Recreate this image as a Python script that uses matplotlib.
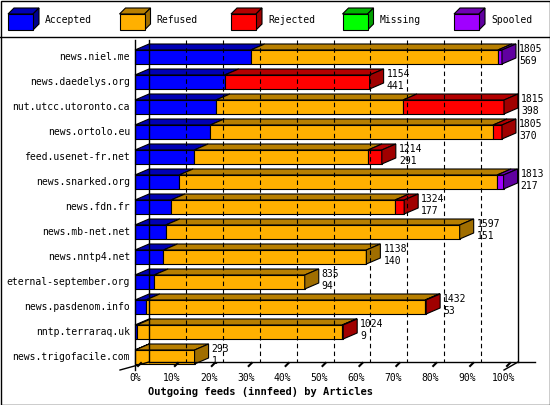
import numpy as np
import matplotlib.pyplot as plt
from matplotlib.patches import Polygon, Rectangle

hosts = ["news.niel.me", "news.daedelys.org", "nut.utcc.utoronto.ca", "news.ortolo.eu",
         "feed.usenet-fr.net", "news.snarked.org", "news.fdn.fr", "news.mb-net.net",
         "news.nntp4.net", "eternal-september.org", "news.pasdenom.info",
         "nntp.terraraq.uk", "news.trigofacile.com"]
totals = [1805, 1154, 1815, 1805, 1214, 1813, 1324, 1597, 1138, 835, 1432, 1024, 293]
accepted = [569, 441, 398, 370, 291, 217, 177, 151, 140, 94, 53, 9, 1]
refused = [1216, 0, 920, 1391, 855, 1564, 1102, 1446, 998, 741, 1374, 1010, 292]
rejected = [0, 713, 497, 44, 68, 0, 45, 0, 0, 0, 5, 5, 0]
missing = [0] * 13
spooled = [20, 0, 0, 0, 0, 32, 0, 0, 0, 0, 0, 0, 0]

series = ["Accepted", "Refused", "Rejected", "Missing", "Spooled"]
front = ["#0000ff", "#ffb000", "#ff0000", "#00ff00", "#a000ff"]
top = ["#0000b4", "#b87f00", "#b40000", "#00b400", "#7000b4"]
side = ["#000090", "#a06e00", "#a00000", "#00a000", "#6000a0"]

fig = plt.figure(figsize=(5.5, 4.05), dpi=100)
ax = fig.add_axes([0, 0, 1, 1])
ax.set_xlim(0, 550)
ax.set_ylim(405, 0)
ax.axis("off")
mono = "DejaVu Sans Mono"

X0, X1 = 135, 504     # 0% .. 100% on the front face
DX, DY = 14, -6       # depth offset
vmax = max(totals)


def px(v):
    return X0 + v / vmax * (X1 - X0)


# frame and legend
ax.add_patch(Rectangle((0.5, 0.5), 549, 404, fill=False, lw=1, ec="black"))
ax.plot([0, 550], [37, 37], color="black", lw=1)
for i, name in enumerate(series):
    lx = 8 + i * 111.5
    ax.add_patch(Polygon([(lx, 14), (lx + 6, 8), (lx + 31, 8), (lx + 25, 14)],
                         fc=top[i], ec="black", lw=0.8))
    ax.add_patch(Polygon([(lx + 25, 14), (lx + 31, 8), (lx + 31, 24), (lx + 25, 30)],
                         fc=side[i], ec="black", lw=0.8))
    ax.add_patch(Rectangle((lx, 14), 25, 16, fc=front[i], ec="black", lw=0.8))
    ax.text(lx + 37, 20, name, fontsize=7, family=mono, va="center")

# back wall grid, floor
yb = 362
ax.plot([X0 + DX, X0 + DX], [40, yb], color="black", lw=1)
ax.plot([X1 + DX, X1 + DX], [40, yb], color="black", lw=1)
ax.plot([X0 + DX, 535], [yb, yb], color="black", lw=1)
ax.plot([X0, X0], [40, 370], color="black", lw=1)
ax.plot([120, X0 + DX], [370, yb], color="black", lw=1)
ax.plot([X1, X1 + DX], [370, yb], color="black", lw=1)
for k in range(1, 10):
    gx = X0 + DX + k * (X1 - X0) / 10
    ax.plot([gx, gx], [40, yb], color="black", lw=0.8, ls=(0, (4, 3)))
for k in range(11):
    tx = X0 + k * (X1 - X0) / 10
    ax.plot([tx + 3, tx + 6], [366, 363], color="black", lw=1.5)
    ax.text(tx, 378, f"{k * 10}%", fontsize=7, family=mono, ha="center", va="center")

# bars
for r, host in enumerate(hosts):
    yc = 57 + r * 25
    y0, y1 = yc - 7, yc + 7
    segs = [accepted[r], refused[r], rejected[r], missing[r], spooled[r]]
    cum = 0
    last = 0
    for s, v in enumerate(segs):
        if v <= 0:
            continue
        a, b = px(cum), px(cum + v)
        ax.add_patch(Polygon([(a, y0), (a + DX, y0 + DY), (b + DX, y0 + DY), (b, y0)],
                             fc=top[s], ec="black", lw=0.8))
        ax.add_patch(Rectangle((a, y0), b - a, y1 - y0, fc=front[s], ec="black", lw=0.8))
        cum += v
        last = s
    e = px(cum)
    ax.add_patch(Polygon([(e, y0), (e + DX, y0 + DY), (e + DX, y1 + DY), (e, y1)],
                         fc=side[last], ec="black", lw=0.8))
    ax.text(130, yc, host, fontsize=7, family=mono, ha="right", va="center")
    ax.text(e + DX + 3, yc - 8, str(totals[r]), fontsize=7, family=mono, va="center")
    ax.text(e + DX + 3, yc + 4, str(accepted[r]), fontsize=7, family=mono, va="center")

ax.text(148, 392, "Outgoing feeds (innfeed) by Articles", fontsize=7.5, family=mono,
        weight="bold", va="center")

fig.savefig("out.png", dpi=100)
